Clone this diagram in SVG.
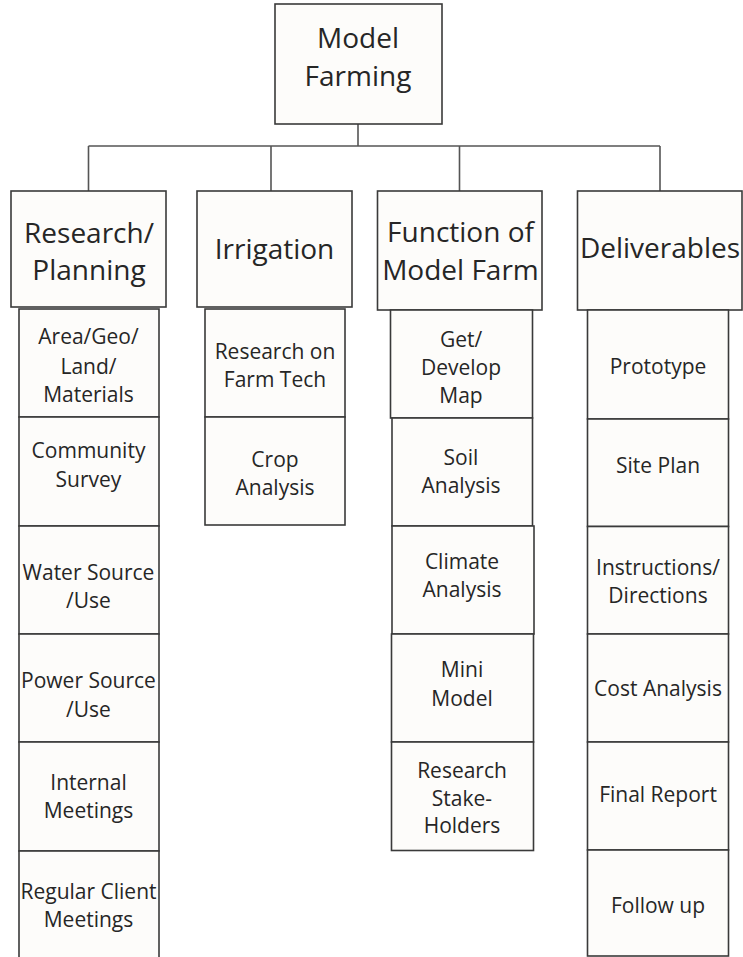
<svg xmlns="http://www.w3.org/2000/svg" width="743" height="957" viewBox="0 0 743 957">
<style>
  .box { fill: #fdfcfa; stroke: #3a3a3a; stroke-width: 1.6; }
  .conn { fill: none; stroke: #555; stroke-width: 1.6; }
  text { font-family: "Open Sans", "Liberation Sans", sans-serif; fill: #262626; text-anchor: middle; }
  .big { font-size: 28px; }
  .sm { font-size: 21px; }
</style>
<rect width="743" height="957" fill="#ffffff"/>
<g id="connectors">
  <path class="conn" d="M358 124 V146 M88.5 146 H660 M88.5 146 V191 M271 146 V191 M459.5 146 V191 M660 146 V191"/>
</g>
<g id="root"><rect class="box" x="275" y="4" width="167" height="120"/><text class="big" x="358" y="48">Model</text><text class="big" x="358" y="86">Farming</text></g>
<g id="research"><rect class="box" x="11" y="191" width="155" height="116"/><text class="big" x="89" y="243">Research/</text><text class="big" x="89" y="280">Planning</text></g>
<g id="irrigation"><rect class="box" x="197" y="191" width="155" height="116"/><text class="big" x="274.5" y="259">Irrigation</text></g>
<g id="function"><rect class="box" x="377.5" y="191" width="164.5" height="119"/><text class="big" x="460.5" y="242">Function of</text><text class="big" x="460.5" y="280">Model Farm</text></g>
<g id="deliverables"><rect class="box" x="577.5" y="191" width="164.5" height="119"/><text class="big" x="660" y="258" font-size="27.5">Deliverables</text></g>

<g id="area"><rect class="box" x="19" y="309" width="140" height="108"/><text class="sm" x="88.5" y="344">Area/Geo/</text><text class="sm" x="88.5" y="374">Land/</text><text class="sm" x="88.5" y="402">Materials</text></g>
<g id="community"><rect class="box" x="19" y="417" width="140" height="109"/><text class="sm" x="88.5" y="458">Community</text><text class="sm" x="88.5" y="487">Survey</text></g>
<g id="water"><rect class="box" x="19" y="526" width="140" height="108"/><text class="sm" x="88.5" y="580">Water Source</text><text class="sm" x="88.5" y="608">/Use</text></g>
<g id="power"><rect class="box" x="19" y="634" width="140" height="108"/><text class="sm" x="88.5" y="688">Power Source</text><text class="sm" x="88.5" y="716.5">/Use</text></g>
<g id="internal"><rect class="box" x="19" y="742" width="140" height="109"/><text class="sm" x="88.5" y="790">Internal</text><text class="sm" x="88.5" y="818">Meetings</text></g>
<g id="regular"><rect class="box" x="19" y="851" width="140" height="110"/><text class="sm" x="88.5" y="899">Regular Client</text><text class="sm" x="88.5" y="927">Meetings</text></g>

<g id="farmtech"><rect class="box" x="205" y="309" width="140" height="108"/><text class="sm" x="275" y="359">Research on</text><text class="sm" x="275" y="387">Farm Tech</text></g>
<g id="crop"><rect class="box" x="205" y="417" width="140" height="108"/><text class="sm" x="275" y="466.5">Crop</text><text class="sm" x="275" y="494.5">Analysis</text></g>

<g id="map"><rect class="box" x="390.5" y="310" width="142" height="108"/><text class="sm" x="461" y="347">Get/</text><text class="sm" x="461" y="375">Develop</text><text class="sm" x="461" y="403">Map</text></g>
<g id="soil"><rect class="box" x="392" y="418" width="140.5" height="108"/><text class="sm" x="461" y="465">Soil</text><text class="sm" x="461" y="493">Analysis</text></g>
<g id="climate"><rect class="box" x="392" y="526" width="142" height="108"/><text class="sm" x="462" y="569">Climate</text><text class="sm" x="462" y="597">Analysis</text></g>
<g id="mini"><rect class="box" x="391.5" y="634" width="142" height="108"/><text class="sm" x="462" y="677">Mini</text><text class="sm" x="462" y="706">Model</text></g>
<g id="stakeholders"><rect class="box" x="391.5" y="742" width="142" height="108.5"/><text class="sm" x="462" y="778">Research</text><text class="sm" x="462" y="805.5">Stake-</text><text class="sm" x="462" y="833">Holders</text></g>

<g id="prototype"><rect class="box" x="587.5" y="310" width="141" height="109"/><text class="sm" x="658" y="374">Prototype</text></g>
<g id="siteplan"><rect class="box" x="587.5" y="419" width="141" height="107.5"/><text class="sm" x="658" y="473">Site Plan</text></g>
<g id="instructions"><rect class="box" x="587.5" y="526.5" width="141" height="107.5"/><text class="sm" x="658" y="575">Instructions/</text><text class="sm" x="658" y="603">Directions</text></g>
<g id="cost"><rect class="box" x="587.5" y="634" width="141" height="108"/><text class="sm" x="658" y="696">Cost Analysis</text></g>
<g id="final"><rect class="box" x="587.5" y="742" width="141" height="108"/><text class="sm" x="658" y="801.5">Final Report</text></g>
<g id="followup"><rect class="box" x="587.5" y="850" width="141" height="106"/><text class="sm" x="658" y="912.5">Follow up</text></g>
</svg>
